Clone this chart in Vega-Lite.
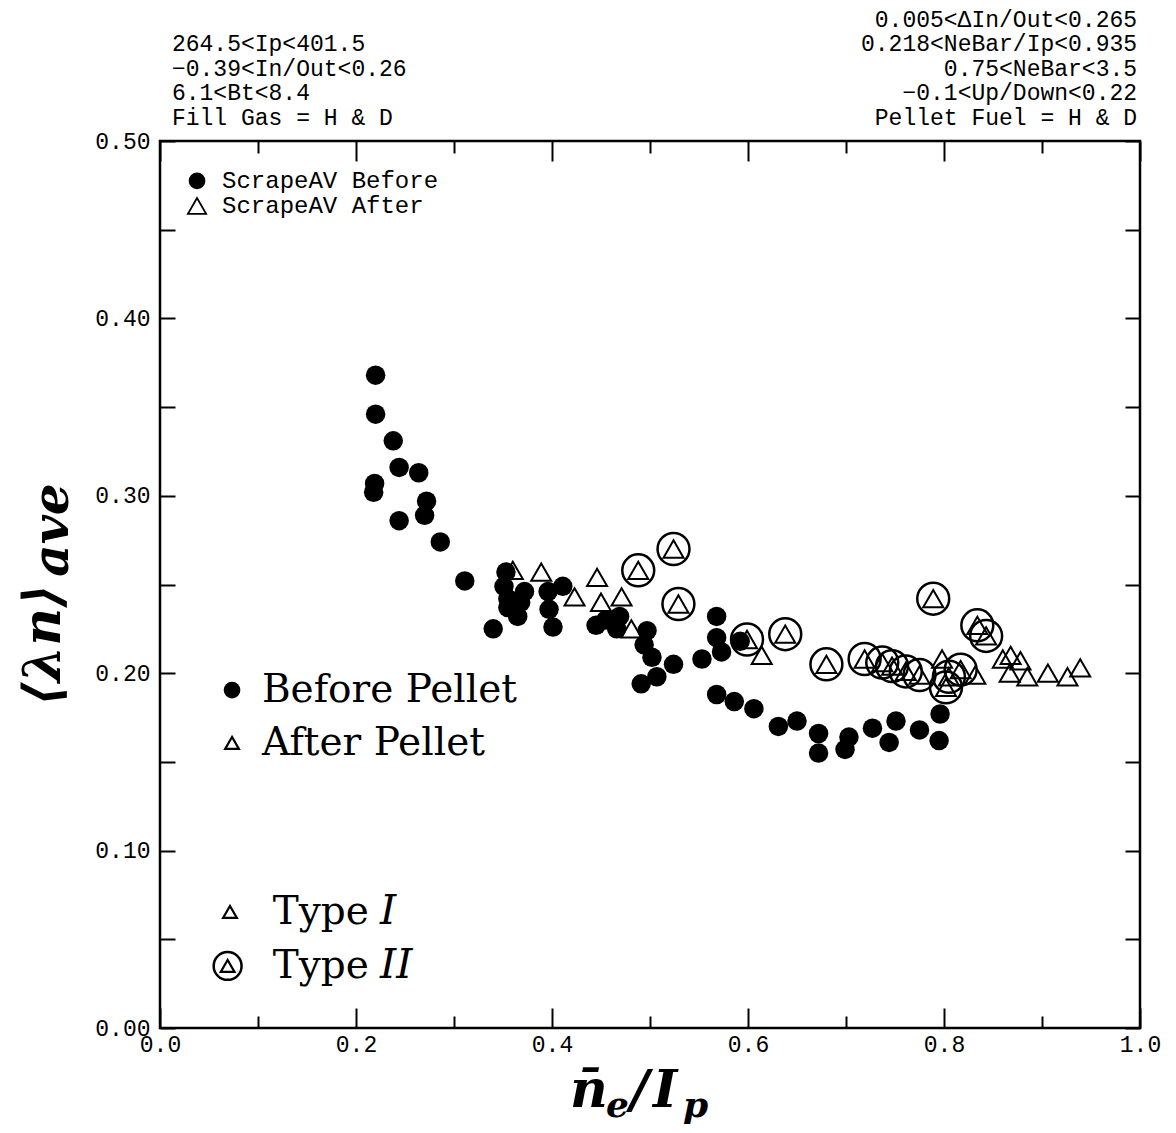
{
  "$schema": "https://vega.github.io/schema/vega-lite/v6.json",
  "width": 980,
  "height": 887,
  "autosize": "none",
  "padding": {"left": 160, "top": 141, "right": 36, "bottom": 105},
  "background": "white",
  "config": {
    "view": {"stroke": "black", "strokeWidth": 2.5},
    "axis": {"grid": false, "domain": false, "tickColor": "black", "tickWidth": 2, "labelColor": "black", "titleColor": "black"}
  },
  "datasets": {
    "pts": [
      {"x": 0.220, "y": 0.368, "phase": "Before", "type": "-"},
      {"x": 0.220, "y": 0.346, "phase": "Before", "type": "-"},
      {"x": 0.238, "y": 0.331, "phase": "Before", "type": "-"},
      {"x": 0.244, "y": 0.316, "phase": "Before", "type": "-"},
      {"x": 0.264, "y": 0.313, "phase": "Before", "type": "-"},
      {"x": 0.219, "y": 0.307, "phase": "Before", "type": "-"},
      {"x": 0.218, "y": 0.302, "phase": "Before", "type": "-"},
      {"x": 0.272, "y": 0.297, "phase": "Before", "type": "-"},
      {"x": 0.270, "y": 0.289, "phase": "Before", "type": "-"},
      {"x": 0.244, "y": 0.286, "phase": "Before", "type": "-"},
      {"x": 0.286, "y": 0.274, "phase": "Before", "type": "-"},
      {"x": 0.311, "y": 0.252, "phase": "Before", "type": "-"},
      {"x": 0.340, "y": 0.225, "phase": "Before", "type": "-"},
      {"x": 0.353, "y": 0.257, "phase": "Before", "type": "-"},
      {"x": 0.351, "y": 0.249, "phase": "Before", "type": "-"},
      {"x": 0.355, "y": 0.242, "phase": "Before", "type": "-"},
      {"x": 0.368, "y": 0.240, "phase": "Before", "type": "-"},
      {"x": 0.365, "y": 0.232, "phase": "Before", "type": "-"},
      {"x": 0.355, "y": 0.237, "phase": "Before", "type": "-"},
      {"x": 0.372, "y": 0.246, "phase": "Before", "type": "-"},
      {"x": 0.396, "y": 0.246, "phase": "Before", "type": "-"},
      {"x": 0.411, "y": 0.249, "phase": "Before", "type": "-"},
      {"x": 0.397, "y": 0.236, "phase": "Before", "type": "-"},
      {"x": 0.401, "y": 0.226, "phase": "Before", "type": "-"},
      {"x": 0.445, "y": 0.227, "phase": "Before", "type": "-"},
      {"x": 0.455, "y": 0.230, "phase": "Before", "type": "-"},
      {"x": 0.469, "y": 0.232, "phase": "Before", "type": "-"},
      {"x": 0.466, "y": 0.225, "phase": "Before", "type": "-"},
      {"x": 0.497, "y": 0.224, "phase": "Before", "type": "-"},
      {"x": 0.494, "y": 0.216, "phase": "Before", "type": "-"},
      {"x": 0.502, "y": 0.209, "phase": "Before", "type": "-"},
      {"x": 0.507, "y": 0.198, "phase": "Before", "type": "-"},
      {"x": 0.491, "y": 0.194, "phase": "Before", "type": "-"},
      {"x": 0.524, "y": 0.205, "phase": "Before", "type": "-"},
      {"x": 0.568, "y": 0.232, "phase": "Before", "type": "-"},
      {"x": 0.568, "y": 0.220, "phase": "Before", "type": "-"},
      {"x": 0.553, "y": 0.208, "phase": "Before", "type": "-"},
      {"x": 0.573, "y": 0.212, "phase": "Before", "type": "-"},
      {"x": 0.592, "y": 0.218, "phase": "Before", "type": "-"},
      {"x": 0.568, "y": 0.188, "phase": "Before", "type": "-"},
      {"x": 0.586, "y": 0.184, "phase": "Before", "type": "-"},
      {"x": 0.606, "y": 0.180, "phase": "Before", "type": "-"},
      {"x": 0.631, "y": 0.170, "phase": "Before", "type": "-"},
      {"x": 0.650, "y": 0.173, "phase": "Before", "type": "-"},
      {"x": 0.672, "y": 0.166, "phase": "Before", "type": "-"},
      {"x": 0.672, "y": 0.155, "phase": "Before", "type": "-"},
      {"x": 0.703, "y": 0.164, "phase": "Before", "type": "-"},
      {"x": 0.699, "y": 0.157, "phase": "Before", "type": "-"},
      {"x": 0.727, "y": 0.169, "phase": "Before", "type": "-"},
      {"x": 0.744, "y": 0.161, "phase": "Before", "type": "-"},
      {"x": 0.751, "y": 0.173, "phase": "Before", "type": "-"},
      {"x": 0.775, "y": 0.168, "phase": "Before", "type": "-"},
      {"x": 0.795, "y": 0.162, "phase": "Before", "type": "-"},
      {"x": 0.796, "y": 0.177, "phase": "Before", "type": "-"},
      {"x": 0.360, "y": 0.258, "phase": "After", "type": "I"},
      {"x": 0.389, "y": 0.257, "phase": "After", "type": "I"},
      {"x": 0.423, "y": 0.243, "phase": "After", "type": "I"},
      {"x": 0.446, "y": 0.254, "phase": "After", "type": "I"},
      {"x": 0.450, "y": 0.240, "phase": "After", "type": "I"},
      {"x": 0.471, "y": 0.243, "phase": "After", "type": "I"},
      {"x": 0.481, "y": 0.225, "phase": "After", "type": "I"},
      {"x": 0.614, "y": 0.210, "phase": "After", "type": "I"},
      {"x": 0.798, "y": 0.208, "phase": "After", "type": "I"},
      {"x": 0.832, "y": 0.199, "phase": "After", "type": "I"},
      {"x": 0.860, "y": 0.208, "phase": "After", "type": "I"},
      {"x": 0.868, "y": 0.210, "phase": "After", "type": "I"},
      {"x": 0.878, "y": 0.207, "phase": "After", "type": "I"},
      {"x": 0.867, "y": 0.200, "phase": "After", "type": "I"},
      {"x": 0.885, "y": 0.198, "phase": "After", "type": "I"},
      {"x": 0.906, "y": 0.200, "phase": "After", "type": "I"},
      {"x": 0.926, "y": 0.198, "phase": "After", "type": "I"},
      {"x": 0.939, "y": 0.203, "phase": "After", "type": "I"},
      {"x": 0.488, "y": 0.258, "phase": "After", "type": "II"},
      {"x": 0.524, "y": 0.270, "phase": "After", "type": "II"},
      {"x": 0.529, "y": 0.239, "phase": "After", "type": "II"},
      {"x": 0.599, "y": 0.219, "phase": "After", "type": "II"},
      {"x": 0.638, "y": 0.222, "phase": "After", "type": "II"},
      {"x": 0.680, "y": 0.205, "phase": "After", "type": "II"},
      {"x": 0.719, "y": 0.208, "phase": "After", "type": "II"},
      {"x": 0.737, "y": 0.206, "phase": "After", "type": "II"},
      {"x": 0.747, "y": 0.204, "phase": "After", "type": "II"},
      {"x": 0.761, "y": 0.201, "phase": "After", "type": "II"},
      {"x": 0.775, "y": 0.199, "phase": "After", "type": "II"},
      {"x": 0.805, "y": 0.198, "phase": "After", "type": "II"},
      {"x": 0.802, "y": 0.192, "phase": "After", "type": "II"},
      {"x": 0.817, "y": 0.202, "phase": "After", "type": "II"},
      {"x": 0.789, "y": 0.242, "phase": "After", "type": "II"},
      {"x": 0.834, "y": 0.227, "phase": "After", "type": "II"},
      {"x": 0.843, "y": 0.221, "phase": "After", "type": "II"}
    ],
    "keys": [
      {"x": 0.0378, "y": 0.4775, "key": "scrapeBefore"},
      {"x": 0.0378, "y": 0.4634, "key": "scrapeAfter"},
      {"x": 0.0735, "y": 0.1905, "key": "bigBefore"},
      {"x": 0.0735, "y": 0.1607, "key": "bigAfter"},
      {"x": 0.0714, "y": 0.0654, "key": "typeI"},
      {"x": 0.0690, "y": 0.0350, "key": "typeII"}
    ],
    "notes": [
      {"x": 0.0122, "y": 0.5544, "block": "left", "text": "264.5<Ip<401.5"},
      {"x": 0.0122, "y": 0.5406, "block": "left", "text": "−0.39<In/Out<0.26"},
      {"x": 0.0122, "y": 0.5268, "block": "left", "text": "6.1<Bt<8.4"},
      {"x": 0.0122, "y": 0.5130, "block": "left", "text": "Fill Gas = H & D"},
      {"x": 0.997, "y": 0.5682, "block": "right", "text": "0.005<ΔIn/Out<0.265"},
      {"x": 0.997, "y": 0.5544, "block": "right", "text": "0.218<NeBar/Ip<0.935"},
      {"x": 0.997, "y": 0.5406, "block": "right", "text": "0.75<NeBar<3.5"},
      {"x": 0.997, "y": 0.5268, "block": "right", "text": "−0.1<Up/Down<0.22"},
      {"x": 0.997, "y": 0.5130, "block": "right", "text": "Pellet Fuel = H & D"},
      {"x": 0.0633, "y": 0.4775, "block": "scrape", "text": "ScrapeAV Before"},
      {"x": 0.0633, "y": 0.4634, "block": "scrape", "text": "ScrapeAV After"},
      {"x": 0.104, "y": 0.1905, "block": "big", "text": "Before Pellet"},
      {"x": 0.104, "y": 0.1607, "block": "big", "text": "After Pellet"},
      {"x": 0.115, "y": 0.0654, "block": "big", "text": "Type"},
      {"x": 0.115, "y": 0.0350, "block": "big", "text": "Type"},
      {"x": 0.2245, "y": 0.0654, "block": "italic", "text": "I"},
      {"x": 0.2245, "y": 0.0350, "block": "italic", "text": "II"},
      {"x": -0.102, "y": 0.2159, "block": "ytitle", "text": "⟨λn⟩"},
      {"x": -0.094, "y": 0.2807, "block": "ytitleSub", "text": "ave"},
      {"x": 0.4184, "y": -0.0445, "block": "xtitle", "text": "n̄"},
      {"x": 0.4551, "y": -0.0500, "block": "xtitleSub", "text": "e"},
      {"x": 0.4796, "y": -0.0445, "block": "xtitle", "text": "/"},
      {"x": 0.5031, "y": -0.0445, "block": "xtitle", "text": "I"},
      {"x": 0.5337, "y": -0.0500, "block": "xtitleSub", "text": "p"}
    ]
  },
  "layer": [
    {
      "data": {"name": "pts"},
      "transform": [{"filter": "datum.phase == 'Before'"}],
      "mark": {"type": "point", "shape": "circle", "filled": true, "color": "black", "opacity": 1, "size": 380},
      "encoding": {
        "x": {
          "field": "x", "type": "quantitative",
          "scale": {"domain": [0, 1], "nice": false, "zero": false},
          "axis": {
            "orient": "bottom",
            "values": [0, 0.1, 0.2, 0.3, 0.4, 0.5, 0.6, 0.7, 0.8, 0.9, 1.0],
            "labelExpr": "round(datum.value*10) % 2 == 0 ? format(datum.value, '.1f') : ''",
            "tickSize": {"condition": {"test": "round(datum.value*10) % 2 == 0", "value": -20}, "value": -12},
            "labelFont": "Liberation Mono", "labelFontSize": 23, "labelPadding": 25,
            "labelFlush": false, "labelOverlap": false,
            "title": null
          }
        },
        "y": {
          "field": "y", "type": "quantitative",
          "scale": {"domain": [0, 0.5], "nice": false, "zero": false},
          "axis": {
            "orient": "left",
            "values": [0, 0.05, 0.1, 0.15, 0.2, 0.25, 0.3, 0.35, 0.4, 0.45, 0.5],
            "labelExpr": "round(datum.value*20) % 2 == 0 ? format(datum.value, '.2f') : ''",
            "tickSize": -15,
            "labelFont": "Liberation Mono", "labelFontSize": 23, "labelPadding": 25,
            "labelFlush": false, "labelOverlap": false,
            "title": null
          }
        }
      }
    },
    {
      "data": {"name": "pts"},
      "transform": [{"filter": "datum.phase == 'After'"}],
      "mark": {"type": "point", "shape": "triangle-up", "filled": false, "color": "black", "opacity": 1, "strokeWidth": 2, "size": 400},
      "encoding": {
        "x": {
          "field": "x", "type": "quantitative",
          "scale": {"domain": [0, 1], "nice": false, "zero": false},
          "axis": {
            "orient": "top", "labels": false, "title": null,
            "values": [0, 0.1, 0.2, 0.3, 0.4, 0.5, 0.6, 0.7, 0.8, 0.9, 1.0],
            "tickSize": {"condition": {"test": "round(datum.value*10) % 2 == 0", "value": -20}, "value": -12}
          }
        },
        "y": {
          "field": "y", "type": "quantitative",
          "scale": {"domain": [0, 0.5], "nice": false, "zero": false},
          "axis": {
            "orient": "right", "labels": false, "title": null,
            "values": [0, 0.05, 0.1, 0.15, 0.2, 0.25, 0.3, 0.35, 0.4, 0.45, 0.5],
            "tickSize": -15
          }
        }
      }
    },
    {
      "data": {"name": "pts"},
      "transform": [{"filter": "datum.type == 'II'"}],
      "mark": {"type": "point", "shape": "circle", "filled": false, "color": "black", "opacity": 1, "strokeWidth": 2.5, "size": 1020},
      "encoding": {
        "x": {"field": "x", "type": "quantitative", "scale": {"domain": [0, 1], "nice": false, "zero": false}, "axis": null},
        "y": {"field": "y", "type": "quantitative", "scale": {"domain": [0, 0.5], "nice": false, "zero": false}, "axis": null}
      }
    },
    {
      "data": {"name": "keys"},
      "transform": [{"filter": "datum.key == 'scrapeBefore' || datum.key == 'bigBefore'"}],
      "mark": {"type": "point", "shape": "circle", "filled": true, "color": "black", "opacity": 1, "size": 280},
      "encoding": {
        "x": {"field": "x", "type": "quantitative", "scale": {"domain": [0, 1], "nice": false, "zero": false}, "axis": null},
        "y": {"field": "y", "type": "quantitative", "scale": {"domain": [0, 0.5], "nice": false, "zero": false}, "axis": null}
      }
    },
    {
      "data": {"name": "keys"},
      "transform": [{"filter": "datum.key == 'scrapeAfter'"}],
      "mark": {"type": "point", "shape": "triangle-up", "filled": false, "color": "black", "opacity": 1, "strokeWidth": 1.8, "size": 330},
      "encoding": {
        "x": {"field": "x", "type": "quantitative", "scale": {"domain": [0, 1], "nice": false, "zero": false}, "axis": null},
        "y": {"field": "y", "type": "quantitative", "scale": {"domain": [0, 0.5], "nice": false, "zero": false}, "axis": null}
      }
    },
    {
      "data": {"name": "keys"},
      "transform": [{"filter": "datum.key == 'bigAfter' || datum.key == 'typeI' || datum.key == 'typeII'"}],
      "mark": {"type": "point", "shape": "triangle-up", "filled": false, "color": "black", "opacity": 1, "strokeWidth": 2.2, "size": 190},
      "encoding": {
        "x": {"field": "x", "type": "quantitative", "scale": {"domain": [0, 1], "nice": false, "zero": false}, "axis": null},
        "y": {"field": "y", "type": "quantitative", "scale": {"domain": [0, 0.5], "nice": false, "zero": false}, "axis": null}
      }
    },
    {
      "data": {"name": "keys"},
      "transform": [{"filter": "datum.key == 'typeII'"}],
      "mark": {"type": "point", "shape": "circle", "filled": false, "color": "black", "opacity": 1, "strokeWidth": 2.5, "size": 780},
      "encoding": {
        "x": {"field": "x", "type": "quantitative", "scale": {"domain": [0, 1], "nice": false, "zero": false}, "axis": null},
        "y": {"field": "y", "type": "quantitative", "scale": {"domain": [0, 0.5], "nice": false, "zero": false}, "axis": null}
      }
    },
    {
      "data": {"name": "notes"},
      "transform": [{"filter": "datum.block == 'left'"}],
      "mark": {"type": "text", "align": "left", "baseline": "middle", "font": "Liberation Mono", "fontSize": 23, "color": "black"},
      "encoding": {
        "x": {"field": "x", "type": "quantitative", "scale": {"domain": [0, 1], "nice": false, "zero": false}, "axis": null},
        "y": {"field": "y", "type": "quantitative", "scale": {"domain": [0, 0.5], "nice": false, "zero": false}, "axis": null},
        "text": {"field": "text"}
      }
    },
    {
      "data": {"name": "notes"},
      "transform": [{"filter": "datum.block == 'scrape'"}],
      "mark": {"type": "text", "align": "left", "baseline": "middle", "font": "Liberation Mono", "fontSize": 24, "color": "black"},
      "encoding": {
        "x": {"field": "x", "type": "quantitative", "scale": {"domain": [0, 1], "nice": false, "zero": false}, "axis": null},
        "y": {"field": "y", "type": "quantitative", "scale": {"domain": [0, 0.5], "nice": false, "zero": false}, "axis": null},
        "text": {"field": "text"}
      }
    },
    {
      "data": {"name": "notes"},
      "transform": [{"filter": "datum.block == 'right'"}],
      "mark": {"type": "text", "align": "right", "baseline": "middle", "font": "Liberation Mono", "fontSize": 23, "color": "black"},
      "encoding": {
        "x": {"field": "x", "type": "quantitative", "scale": {"domain": [0, 1], "nice": false, "zero": false}, "axis": null},
        "y": {"field": "y", "type": "quantitative", "scale": {"domain": [0, 0.5], "nice": false, "zero": false}, "axis": null},
        "text": {"field": "text"}
      }
    },
    {
      "data": {"name": "notes"},
      "transform": [{"filter": "datum.block == 'big'"}],
      "mark": {"type": "text", "align": "left", "baseline": "middle", "font": "DejaVu Serif", "fontSize": 39, "color": "black"},
      "encoding": {
        "x": {"field": "x", "type": "quantitative", "scale": {"domain": [0, 1], "nice": false, "zero": false}, "axis": null},
        "y": {"field": "y", "type": "quantitative", "scale": {"domain": [0, 0.5], "nice": false, "zero": false}, "axis": null},
        "text": {"field": "text"}
      }
    },
    {
      "data": {"name": "notes"},
      "transform": [{"filter": "datum.block == 'italic'"}],
      "mark": {"type": "text", "align": "left", "baseline": "middle", "font": "DejaVu Serif", "fontStyle": "italic", "fontSize": 41, "color": "black"},
      "encoding": {
        "x": {"field": "x", "type": "quantitative", "scale": {"domain": [0, 1], "nice": false, "zero": false}, "axis": null},
        "y": {"field": "y", "type": "quantitative", "scale": {"domain": [0, 0.5], "nice": false, "zero": false}, "axis": null},
        "text": {"field": "text"}
      }
    },
    {
      "data": {"name": "notes"},
      "transform": [{"filter": "datum.block == 'ytitle'"}],
      "mark": {"type": "text", "align": "center", "baseline": "alphabetic", "angle": 270, "font": "DejaVu Serif", "fontStyle": "italic", "fontWeight": "bold", "fontSize": 52, "color": "black"},
      "encoding": {
        "x": {"field": "x", "type": "quantitative", "scale": {"domain": [0, 1], "nice": false, "zero": false}, "axis": null},
        "y": {"field": "y", "type": "quantitative", "scale": {"domain": [0, 0.5], "nice": false, "zero": false}, "axis": null},
        "text": {"field": "text"}
      }
    },
    {
      "data": {"name": "notes"},
      "transform": [{"filter": "datum.block == 'ytitleSub'"}],
      "mark": {"type": "text", "align": "center", "baseline": "alphabetic", "angle": 270, "font": "DejaVu Serif", "fontStyle": "italic", "fontWeight": "bold", "fontSize": 50, "color": "black"},
      "encoding": {
        "x": {"field": "x", "type": "quantitative", "scale": {"domain": [0, 1], "nice": false, "zero": false}, "axis": null},
        "y": {"field": "y", "type": "quantitative", "scale": {"domain": [0, 0.5], "nice": false, "zero": false}, "axis": null},
        "text": {"field": "text"}
      }
    },
    {
      "data": {"name": "notes"},
      "transform": [{"filter": "datum.block == 'xtitle'"}],
      "mark": {"type": "text", "align": "left", "baseline": "alphabetic", "font": "DejaVu Serif", "fontStyle": "italic", "fontWeight": "bold", "fontSize": 52, "color": "black"},
      "encoding": {
        "x": {"field": "x", "type": "quantitative", "scale": {"domain": [0, 1], "nice": false, "zero": false}, "axis": null},
        "y": {"field": "y", "type": "quantitative", "scale": {"domain": [0, 0.5], "nice": false, "zero": false}, "axis": null},
        "text": {"field": "text"}
      }
    },
    {
      "data": {"name": "notes"},
      "transform": [{"filter": "datum.block == 'xtitleSub'"}],
      "mark": {"type": "text", "align": "left", "baseline": "alphabetic", "font": "DejaVu Serif", "fontStyle": "italic", "fontWeight": "bold", "fontSize": 36, "color": "black"},
      "encoding": {
        "x": {"field": "x", "type": "quantitative", "scale": {"domain": [0, 1], "nice": false, "zero": false}, "axis": null},
        "y": {"field": "y", "type": "quantitative", "scale": {"domain": [0, 0.5], "nice": false, "zero": false}, "axis": null},
        "text": {"field": "text"}
      }
    }
  ],
  "resolve": {"axis": {"x": "independent", "y": "independent"}}
}
